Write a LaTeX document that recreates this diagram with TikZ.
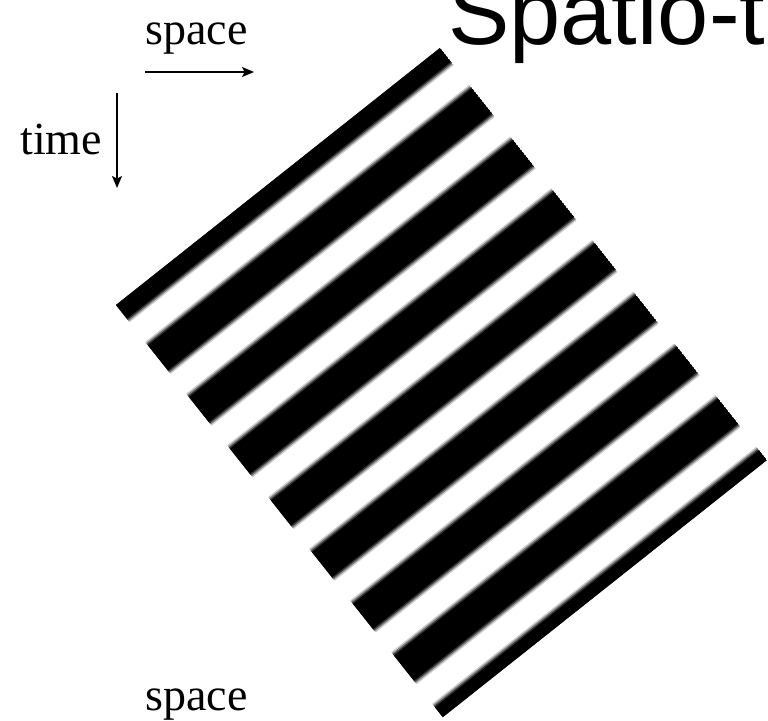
\documentclass[tikz,border=0pt]{standalone}
\usepackage{fontspec}
\setmainfont{Liberation Serif}
\newfontfamily\titlefont{Liberation Sans}
\usetikzlibrary{arrows.meta,calc}

\begin{document}
\begin{tikzpicture}[
    x=0.75pt, y=-0.75pt,
    axislabel/.style={
      font=\fontsize{34.5}{40}\selectfont,
      inner sep=0pt,
      anchor=base west
    },
    axisarrow/.style={
      -{Stealth[length=9pt,width=7.5pt,inset=2pt]},
      line width=1.1pt
    },
    stripe/.style={fill=black!#1}
  ]
  \useasboundingbox (0,0) rectangle (768,721);
  \clip (0,0) rectangle (768,721);

  \node[font=\titlefont\fontsize{69}{80}\selectfont, inner sep=0pt, anchor=base west]
    (title) at (448,45) {Spatio-t};

  % corners of the tilted stripe patch
  \coordinate (ptop)    at (440,48);
  \coordinate (pleft)   at (116,305);
  \coordinate (pright)  at (766.8,460.1);
  \coordinate (pbottom) at (442.8,717.1);

  \begin{scope}
    \clip (ptop) -- (pleft) -- (pbottom) -- (pright) -- cycle;
    \foreach \c in {1.5,67.5,...,529.5} {
      \foreach \hw/\tone in {20.5/20,19/50,17.5/80,16/100} {
        \pgfmathsetmacro\p{(\c-\hw)/526}
        \pgfmathsetmacro\q{(\c+\hw)/526}
        \fill[stripe=\tone] ($(ptop)!\p!(pright)$) -- ($(ptop)!\q!(pright)$)
          -- ($(pleft)!\q!(pbottom)$) -- ($(pleft)!\p!(pbottom)$) -- cycle;
      }
    }
  \end{scope}

  \node[axislabel] (spacetop)    at (145,45)  {space};
  \node[axislabel] (timelabel)   at (20,154)  {time};
  \node[axislabel] (spacebottom) at (145,710) {space};

  \coordinate (spacefrom) at (145,72);
  \coordinate (spaceto)   at (254,72);
  \coordinate (timefrom)  at (117,93);
  \coordinate (timeto)    at (117,188);

  \draw[axisarrow] (spacefrom) -- (spaceto);
  \draw[axisarrow] (timefrom) -- (timeto);

\end{tikzpicture}
\end{document}
